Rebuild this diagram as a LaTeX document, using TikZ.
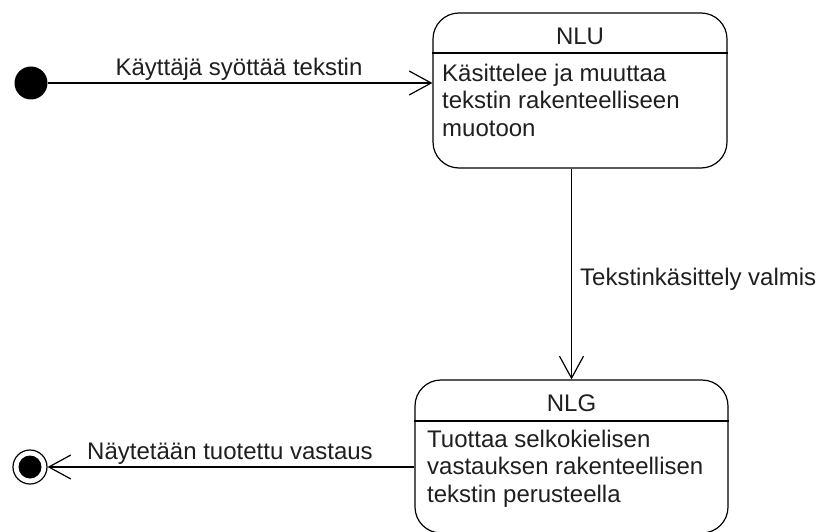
\documentclass[tikz,border=0pt]{standalone}
\usepackage{fontspec}
\setmainfont{Liberation Sans}
\usetikzlibrary{arrows.meta}
\begin{document}
\begin{tikzpicture}[x=1pt,y=-1pt,
  statebox/.style={draw, rounded corners=26pt, line width=1.2pt, inner sep=0pt},
  txt/.style={inner sep=0pt, font=\fontsize{24}{27.5}\selectfont, text=black!88},
  bodytxt/.style={txt, align=left, anchor=north west},
  divider/.style={line width=1.2pt},
  arr/.style={line width=1.2pt, -{Straight Barb[length=22pt,width=24pt,line width=1.2pt]}},
  initstate/.style={circle, fill=black, minimum size=33pt, inner sep=0pt},
  finalouter/.style={circle, draw, line width=1.2pt, minimum size=34pt, inner sep=0pt},
  finalinner/.style={circle, fill=black, minimum size=23pt, inner sep=0pt}
]
\useasboundingbox (0,0) rectangle (824,532);
% states
\node[statebox, minimum width=294pt, minimum height=155pt] (NLU) at (580,90.5) {};
\node[txt] (NLUt) at (580,36) {NLU};
\coordinate (NLUdiv) at (0,53);
\draw[divider] (NLU.west |- NLUdiv) -- (NLU.east |- NLUdiv);
\node[bodytxt] (NLUb) at (442,63.5) {Käsittelee ja muuttaa\\tekstin rakenteelliseen\\muotoon};

\node[statebox, minimum width=313pt, minimum height=153pt] (NLG) at (571.5,456.5) {};
\node[txt] (NLGt) at (571.5,403) {NLG};
\coordinate (NLGdiv) at (0,421);
\draw[divider] (NLG.west |- NLGdiv) -- (NLG.east |- NLGdiv);
\node[bodytxt] (NLGb) at (427,429.5) {Tuottaa selkokielisen\\vastauksen rakenteellisen\\tekstin perusteella};

% pseudo states
\node[initstate] (init) at (31,83) {};
\node[finalouter] (fin) at (30,467) {};
\node[finalinner] (finin) at (fin) {};

% transitions
\draw[arr] (init) -- (init -| NLU.west);
\node[txt, anchor=base] (l1) at (239,76) {Käyttäjä syöttää tekstin};

\draw[arr] (NLG.north |- NLU.south) -- (NLG.north);
\node[txt, anchor=base west] (l2) at (580,285) {Tekstinkäsittely valmis};

\draw[arr] (fin -| NLG.west) -- (fin);
\node[txt, anchor=base] (l3) at (230,459) {Näytetään tuotettu vastaus};
\end{tikzpicture}
\end{document}
